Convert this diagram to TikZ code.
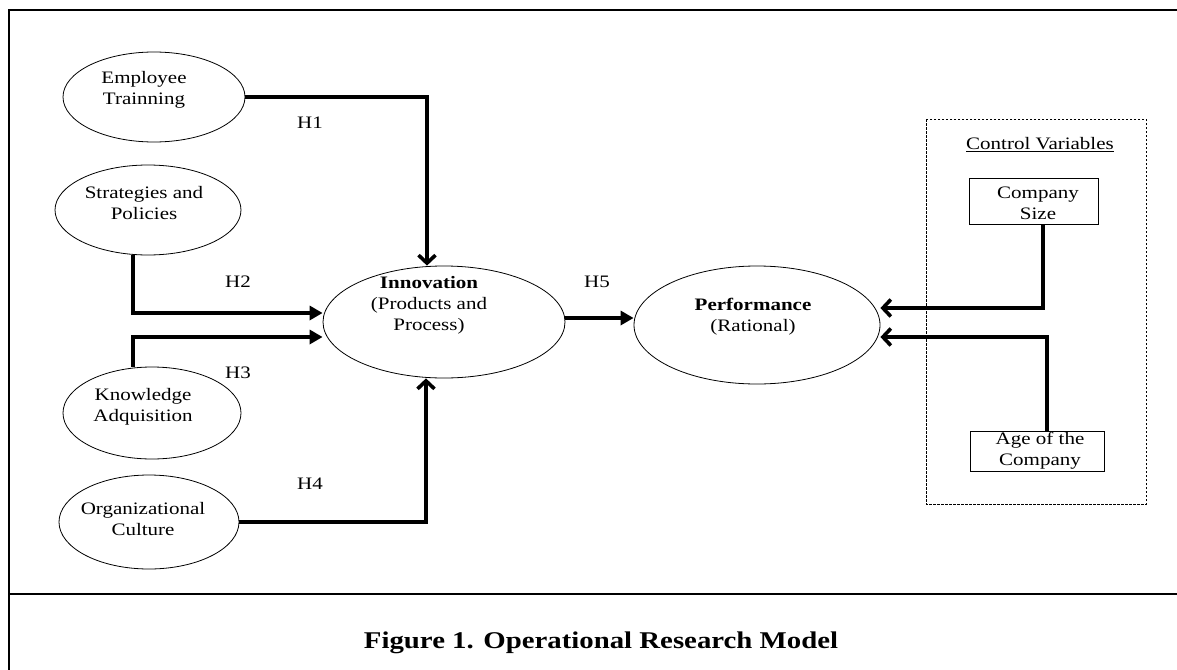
\documentclass[tikz,border=0pt]{standalone}
\usepackage{fontspec}
\setmainfont{Liberation Serif}[FakeStretch=1.2]
\usetikzlibrary{shapes.geometric,arrows.meta}
\begin{document}
\begin{tikzpicture}[x=1pt,y=-1pt,
  var/.style={draw,ellipse,line width=0.8pt,inner sep=0pt},
  ctrl/.style={draw,rectangle,line width=1pt,inner sep=0pt},
  txt/.style={align=center,inner sep=0pt,font=\fontsize{17.5}{21}\selectfont},
  arrT/.style={line width=3.6pt,-{Triangle[length=13pt,width=14pt]}},
  arrB/.style={line width=3.6pt,-{Straight Barb[length=8pt,width=17pt]}},
  frame/.style={line width=2.4pt}]
\useasboundingbox (0,0) rectangle (1177,669);
\clip (0,0) rectangle (1177,669);
% frame
\draw[frame] (9,680) -- (9,10) -- (1190,10);
\draw[frame] (9,594) -- (1190,594);
% ellipses
\node[var,minimum width=182pt,minimum height=90pt] (emp) at (154,97) {};
\node[var,minimum width=186pt,minimum height=90pt] (str) at (148,210) {};
\node[var,minimum width=178pt,minimum height=92pt] (knw) at (152,413) {};
\node[var,minimum width=180pt,minimum height=94pt] (org) at (149,522) {};
\node[var,minimum width=242pt,minimum height=112pt] (inn) at (444,322) {};
\node[var,minimum width=246pt,minimum height=118pt] (perf) at (757,325) {};
\node[txt] (empT) at (144,90) {Employee\\Trainning};
\node[txt] (strT) at (144,203) {Strategies and\\Policies};
\node[txt] (knwT) at (143,407) {Knowledge\\Adquisition};
\node[txt] (orgT) at (143,519) {Organizational\\Culture};
\node[txt] (innT) at (429,305) {\textbf{Innovation}\\(Products and\\Process)};
\node[txt] (perfT) at (753,317) {\textbf{Performance}\\(Rational)};
% control variables
\draw[line width=0.8pt,dash pattern=on 2.5pt off 1.5pt] (926,119) rectangle (1146,504);
\node[txt] (cvT) at (1040,145) {\underline{Control Variables}};
\node[ctrl,minimum width=129pt,minimum height=46pt] (cs) at (1034,201) {};
\node[txt] (csT) at (1038,203) {Company\\Size};
\node[ctrl,minimum width=134pt,minimum height=40pt] (age) at (1037,451) {};
\node[txt] (ageT) at (1040,451) {Age of the\\Company};
% connectors
\draw[arrB] (emp.east) -| ([xshift=-17pt]inn.north);
\draw[arrT] ([xshift=-15pt]str.south) |- ([yshift=9pt]inn.west);
\draw[arrT] ([xshift=-19pt]knw.north) |- ([yshift=-15pt]inn.west);
\draw[arrB] (org.east) -| ([xshift=-18pt]inn.south);
\draw[arrT] ([yshift=4pt]inn.east) -- ([yshift=7pt]perf.west);
\draw[arrB] ([xshift=9pt]cs.south) |- ([yshift=17pt]perf.east);
\draw[arrB] ([xshift=10pt]age.north) |- ([yshift=-12pt]perf.east);
% hypothesis labels
\node[txt] (h1) at (310,123) {H1};
\node[txt] (h2) at (238,282) {H2};
\node[txt] (h3) at (238,373) {H3};
\node[txt] (h4) at (310,484) {H4};
\node[txt] (h5) at (597,282) {H5};
% caption
\node[inner sep=0pt,font=\fontsize{24}{28}\selectfont\bfseries] (cap) at (601,643) {Figure 1. Operational Research Model};
\end{tikzpicture}
\end{document}
